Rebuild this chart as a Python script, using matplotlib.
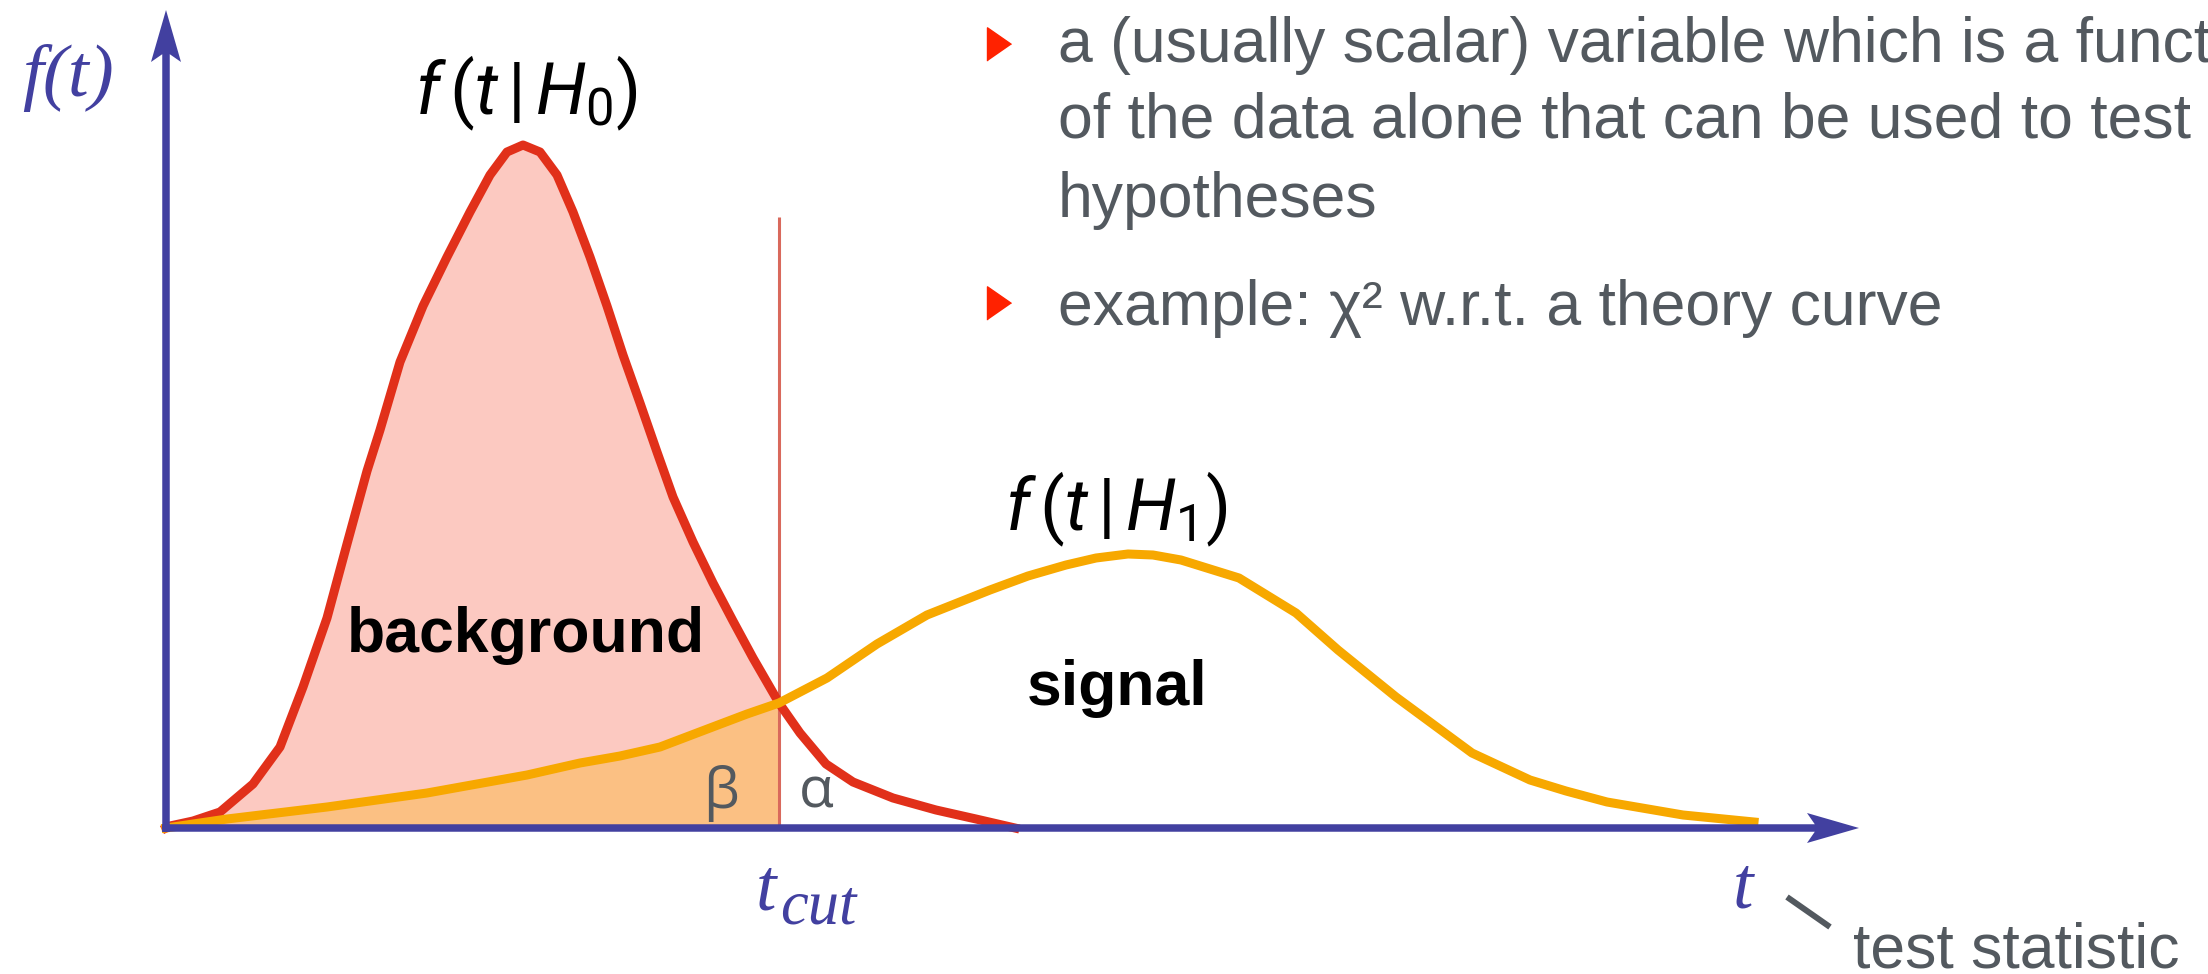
import numpy as np
import matplotlib.pyplot as plt

plt.rcParams['mathtext.fontset'] = 'custom'
plt.rcParams['mathtext.rm'] = 'Roboto'
plt.rcParams['mathtext.it'] = 'Roboto:italic'
plt.rcParams['mathtext.bf'] = 'Roboto:bold'

# curves (t and f in units of 100 px of the original slide)
h0_t = np.array([0.0, 0.04, 0.27, 0.54, 0.87, 1.14, 1.37, 1.61, 1.81, 2.01, 2.14, 2.34,
                 2.57, 2.81, 3.04, 3.24, 3.41, 3.57, 3.74, 3.91, 4.07, 4.24, 4.41, 4.57,
                 4.74, 4.91, 5.07, 5.27, 5.47, 5.67, 5.87, 6.13, 6.34, 6.60, 6.87, 7.27,
                 7.70, 8.10, 8.49])
h0_f = np.array([0.0, 0.02, 0.07, 0.16, 0.44, 0.81, 1.41, 2.10, 2.84, 3.57, 3.98, 4.66,
                 5.22, 5.71, 6.16, 6.53, 6.76, 6.83, 6.76, 6.53, 6.16, 5.71, 5.22, 4.73,
                 4.25, 3.76, 3.31, 2.86, 2.45, 2.07, 1.70, 1.25, 0.95, 0.64, 0.46, 0.30,
                 0.18, 0.09, 0.0])

h1_t = np.array([0.0, 0.61, 1.61, 2.61, 3.61, 4.14, 4.54, 4.94, 5.44, 5.81, 6.13, 6.61,
                 7.11, 7.61, 8.24, 8.62, 9.00, 9.30, 9.62, 9.87, 10.15, 10.73, 11.30,
                 11.72, 12.30, 13.06, 13.64, 14.00, 14.41, 15.17, 15.88])
h1_f = np.array([0.0, 0.09, 0.21, 0.35, 0.53, 0.65, 0.72, 0.81, 1.00, 1.14, 1.25, 1.50,
                 1.84, 2.13, 2.38, 2.52, 2.63, 2.70, 2.74, 2.73, 2.68, 2.50, 2.15,
                 1.78, 1.31, 0.75, 0.48, 0.37, 0.26, 0.13, 0.06])

t_cut = 6.13

bullets = ["a (usually scalar) variable which is a function",
           "of the data alone that can be used to test",
           "hypotheses"]
bullet2 = "example: χ² w.r.t. a theory curve"

blue = '#4240A0'
gray = '#53595F'

fig = plt.figure(figsize=(22.08, 9.74), dpi=100)
ax = fig.add_axes([0, 0, 1, 1])
ax.set_xlim(-1.66, 20.42)
ax.set_ylim(-1.46, 8.28)
ax.axis('off')

# shaded areas left of the cut
m0 = h0_t <= t_cut + 1e-9
m1 = h1_t <= t_cut + 1e-9
ax.fill_between(h0_t[m0], h0_f[m0], color='#FCC9C1', lw=0, zorder=1)
ax.fill_between(h1_t[m1], h1_f[m1], color='#FBC083', lw=0, zorder=2)
ax.vlines(t_cut, 0, 6.11, color='#D9695C', lw=2.2, zorder=3)

ax.plot(h0_t, h0_f, color='#E1301A', lw=6.5, solid_joinstyle='round', zorder=4)
ax.plot(h1_t, h1_f, color='#F7A800', lw=6.5, solid_joinstyle='round', zorder=4)

# axes arrows
ax.arrow(-0.04, 0, 16.97, 0, width=0.075, head_width=0.30, head_length=0.52,
         overhang=0.15, length_includes_head=True, color=blue, lw=0, zorder=5)
ax.arrow(0, -0.04, 0, 8.22, width=0.075, head_width=0.30, head_length=0.52,
         overhang=0.15, length_includes_head=True, color=blue, lw=0, zorder=5)

serif = dict(family='Liberation Serif', style='italic', color=blue)
ax.text(-0.98, 7.50, 'f(t)', fontsize=54, ha='center', va='center', **serif)
ax.text(6.00, -0.82, 't', fontsize=53, ha='center', va='baseline', **serif)
ax.text(6.14, -0.95, 'cut', fontsize=45, ha='left', va='baseline', **serif)
ax.text(15.77, -0.79, 't', fontsize=53, ha='center', va='baseline', **serif)

ax.text(3.60, 7.35, r'$f\,(t\,|\,H_0)$', fontsize=52, ha='center', va='center', color='black')
ax.text(9.50, 3.19, r'$f\,(t\,|\,H_1)$', fontsize=52, ha='center', va='center', color='black')

bold = dict(family='Liberation Sans', weight='bold', color='black', fontsize=45)
ax.text(3.60, 1.76, 'background', ha='center', va='baseline', **bold)
ax.text(9.51, 1.23, 'signal', ha='center', va='baseline', **bold)

greek = dict(family=['Open Sans', 'DejaVu Sans'], color=gray, fontsize=41)
ax.text(5.55, 0.20, 'β', ha='center', va='baseline', **greek)
ax.text(6.50, 0.20, 'α', ha='center', va='baseline', **greek)

# right-hand bullet text
tri = [(-0.72, -1), (-0.72, 1), (0.72, 0)]
ax.plot([8.33, 8.33], [7.84, 5.25], marker=tri, markersize=24, linestyle='none',
        color='#FF2200', zorder=5)
sans = dict(family=['Liberation Sans', 'DejaVu Sans'], color=gray, fontsize=45)
for y, line in zip([7.66, 6.90, 6.11], bullets):
    ax.text(8.92, y, line, ha='left', va='baseline', **sans)
ax.text(8.92, 5.03, bullet2, ha='left', va='baseline', **sans)

ax.plot([16.21, 16.64], [-0.69, -0.99], color=gray, lw=4.3, solid_capstyle='butt')
ax.text(16.87, -1.40, 'test statistic', ha='left', va='baseline', **sans)

fig.savefig('out.png', dpi=100)
